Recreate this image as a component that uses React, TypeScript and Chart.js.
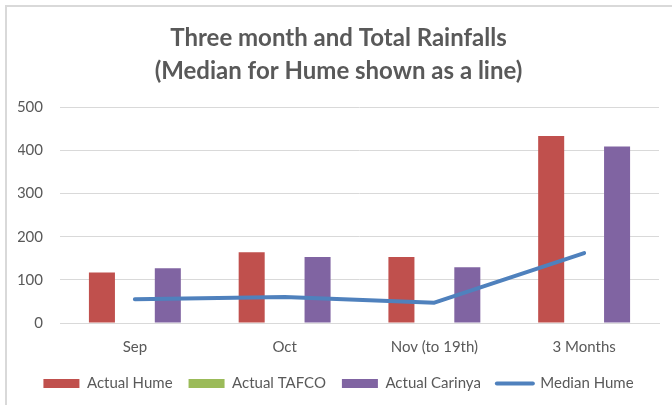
import React, { useEffect, useRef } from "react";
import { Chart, registerables } from "chart.js";

Chart.register(...registerables);

const categories = ["Sep", "Oct", "Nov (to 19th)", "3 Months"];
const actualHume = [117, 164, 153, 433];
const actualTafco: (number | null)[] = [null, null, null, null];
const actualCarinya = [127, 153, 129, 409];
const medianHume = [55, 60, 47, 162];
const yTicks = [0, 100, 200, 300, 400, 500];

const TEXT = "#595959";
const GRID = "#d9d9d9";
const FONT = "Lato, 'Open Sans', sans-serif";

export default function App() {
  const ref = useRef<HTMLCanvasElement | null>(null);
  useEffect(() => {
    if (!ref.current) return;
    const chart = new Chart(ref.current, {
      type: "bar",
      data: {
        labels: categories,
        datasets: [
          {
            type: "bar",
            label: "Actual Hume",
            data: actualHume,
            backgroundColor: "#C0504D",
            categoryPercentage: 0.66,
            barPercentage: 0.79,
            order: 1,
          },
          {
            type: "bar",
            label: "Actual TAFCO",
            data: actualTafco,
            backgroundColor: "#9BBB59",
            categoryPercentage: 0.66,
            barPercentage: 0.79,
            order: 1,
          },
          {
            type: "bar",
            label: "Actual Carinya",
            data: actualCarinya,
            backgroundColor: "#8064A2",
            categoryPercentage: 0.66,
            barPercentage: 0.79,
            order: 1,
          },
          {
            type: "line",
            label: "Median Hume",
            data: medianHume,
            borderColor: "#4F81BD",
            backgroundColor: "#4F81BD",
            borderWidth: 4,
            borderCapStyle: "round",
            borderJoinStyle: "round",
            pointRadius: 0,
            tension: 0,
            order: 0,
          } as any,
        ],
      },
      options: {
        animation: false,
        responsive: false,
        maintainAspectRatio: false,
        layout: { padding: { left: 18, right: 13, top: 0, bottom: 4 } },
        plugins: {
          title: {
            display: true,
            text: ["Three month and Total Rainfalls", "(Median for Hume shown as a line)"],
            color: TEXT,
            font: { family: FONT, size: 24, weight: "bold", lineHeight: 1.4 },
            padding: { top: 21, bottom: 19 },
          },
          legend: {
            position: "bottom",
            labels: {
              color: TEXT,
              font: { family: FONT, size: 15 },
              usePointStyle: true,
              pointStyleWidth: 36,
              boxHeight: 9,
              padding: 16,
              sort: (a: any, b: any) => a.datasetIndex - b.datasetIndex,
              generateLabels: (c: any) => {
                const items = Chart.defaults.plugins.legend.labels.generateLabels(c);
                items.forEach((it: any) => {
                  const ds = c.data.datasets[it.datasetIndex];
                  if (ds.type === "line") {
                    it.pointStyle = "line";
                    it.lineWidth = 4;
                    it.lineCap = "round";
                    it.strokeStyle = "#4F81BD";
                  } else {
                    it.pointStyle = "rect";
                    it.lineWidth = 0;
                  }
                });
                return items;
              },
            },
          },
          tooltip: { enabled: false },
        },
        scales: {
          x: {
            grid: { display: false, drawTicks: false },
            border: { display: true, color: GRID, width: 1 },
            ticks: { color: TEXT, font: { family: FONT, size: 15 }, padding: 15, maxRotation: 0 },
            afterFit: (axis: any) => {
              axis.height = 37;
            },
          },
          y: {
            min: 0,
            max: 500,
            afterBuildTicks: (axis: any) => {
              axis.ticks = yTicks.map((v) => ({ value: v }));
            },
            afterFit: (axis: any) => {
              axis.width = 42;
            },
            grid: { color: GRID, lineWidth: 1, drawTicks: false },
            border: { display: false },
            ticks: { color: TEXT, font: { family: FONT, size: 15 }, padding: 17 },
          },
        },
      },
    });
    return () => chart.destroy();
  }, []);

  return (
    <div style={{ position: "fixed", left: 0, top: 0, width: 672, height: 405, background: "#fff" }}>
      <div
        style={{
          position: "absolute",
          left: 5,
          top: 5,
          right: -10,
          bottom: -10,
          borderTop: `2px solid ${GRID}`,
          borderLeft: `2px solid ${GRID}`,
        }}
      />
      <canvas ref={ref} width={672} height={405} style={{ position: "absolute", left: 0, top: 0 }} />
    </div>
  );
}
